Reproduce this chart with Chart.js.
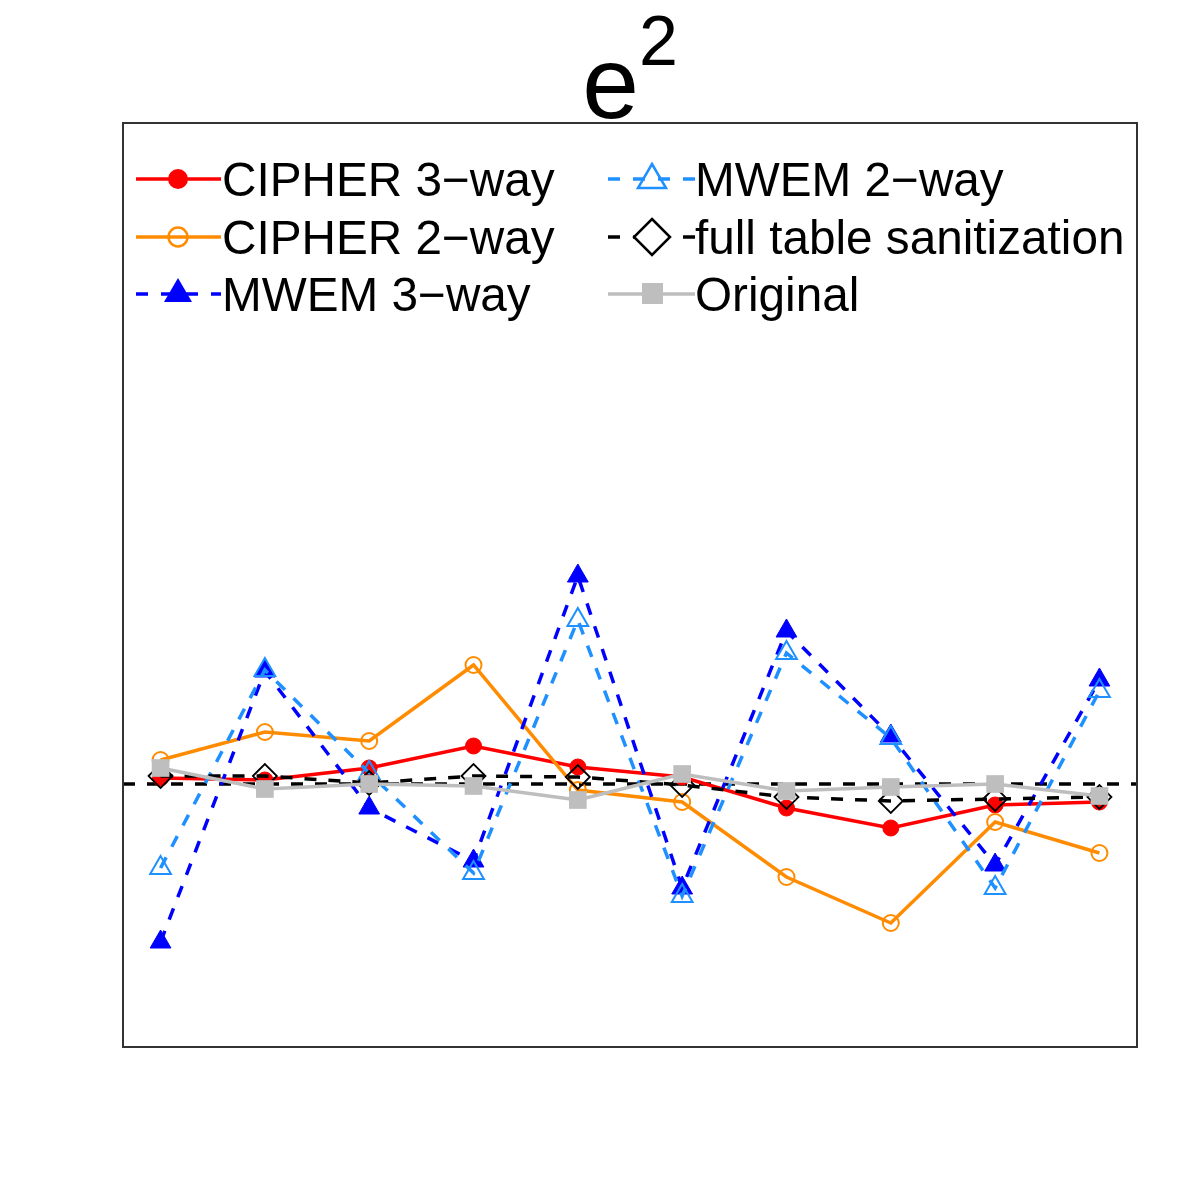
<!DOCTYPE html>
<html>
<head>
<meta charset="utf-8">
<script src="https://cdn.jsdelivr.net/npm/chart.js@4.4.0/dist/chart.umd.min.js"></script>
<style>
  body { margin: 0; background: #fff; font-family: "Liberation Sans", Arial, sans-serif; }
  #wrap { position: relative; width: 1200px; height: 1200px; }
  #chart { position: absolute; left: 0; top: 0; }
  #frame { position: absolute; left: 122px; top: 122px; width: 1016px; height: 926px;
           border: 2px solid #333; box-sizing: border-box; pointer-events: none; }
  #title { position: absolute; left: 123px; width: 1014px; top: 32px; text-align: center;
           font-size: 102px; line-height: 102px; color: #000; }
  #title sup { font-size: 70px; vertical-align: baseline; position: relative; top: -53px; }
  .row { position: absolute; height: 57px; line-height: 57px; font-size: 47.7px; color: #000; white-space: nowrap; }
  .row svg { position: absolute; left: 0; top: 0; }
  .row span { position: absolute; left: 88px; top: 0; }
</style>
</head>
<body>
<div id="wrap">
  <canvas id="chart" width="1200" height="1200"></canvas>
  <div id="frame"></div>
  <div id="title">e<sup>2</sup></div>

  <div class="row" style="left:134px; top:151px;">
    <svg width="88" height="57"><line x1="2" y1="28" x2="87" y2="28" stroke="#FF0000" stroke-width="3.5"/>
      <circle cx="44" cy="28" r="10" fill="#FF0000"/></svg>
    <span>CIPHER 3−way</span>
  </div>
  <div class="row" style="left:134px; top:209px;">
    <svg width="88" height="57"><line x1="2" y1="28" x2="87" y2="28" stroke="#FF8C00" stroke-width="3.5"/>
      <circle cx="44" cy="28" r="9.5" fill="none" stroke="#FF8C00" stroke-width="2.5"/></svg>
    <span>CIPHER 2−way</span>
  </div>
  <div class="row" style="left:134px; top:266px;">
    <svg width="88" height="57"><line x1="2" y1="28" x2="87" y2="28" stroke="#0000FF" stroke-width="3.5" stroke-dasharray="12 13"/>
      <polygon points="44,12 58,36 30,36" fill="#0000FF"/></svg>
    <span>MWEM 3−way</span>
  </div>
  <div class="row" style="left:607px; top:151px;">
    <svg width="88" height="57"><line x1="1" y1="28" x2="88" y2="28" stroke="#1E90FF" stroke-width="3.5" stroke-dasharray="12 13"/>
      <polygon points="45,13 59,37 31,37" fill="none" stroke="#1E90FF" stroke-width="2.5"/></svg>
    <span>MWEM 2−way</span>
  </div>
  <div class="row" style="left:607px; top:209px;">
    <svg width="88" height="57"><line x1="1" y1="28" x2="88" y2="28" stroke="#000" stroke-width="3.5" stroke-dasharray="12 13"/>
      <polygon points="45,10 63,28 45,46 27,28" fill="#fff" stroke="#000" stroke-width="2.5"/></svg>
    <span>full table sanitization</span>
  </div>
  <div class="row" style="left:607px; top:266px;">
    <svg width="88" height="57"><line x1="1" y1="28" x2="88" y2="28" stroke="#BEBEBE" stroke-width="3.5"/>
      <rect x="35" y="17" width="21" height="21" fill="#BEBEBE"/></svg>
    <span>Original</span>
  </div>
</div>

<script>
// x positions (1..10) (arbitrary units, 0 = dashed reference line)
const xs = [1, 2, 3, 4, 5, 6, 7, 8, 9, 10];
const cipher3 = [0.6, 0.4, 1.6, 3.8, 1.7, 0.7, -2.4, -4.4, -2.1, -1.8];
const cipher2 = [2.4, 5.2, 4.3, 11.9, -0.6, -1.8, -9.3, -13.9, -3.8, -6.9];
const mwem3 = [-15.8, 11.3, -2.4, -7.7, 20.8, -10.4, 15.3, 4.8, -8.1, 10.4];
const mwem2 = [-8.4, 11.4, 1.1, -8.9, 16.4, -11.2, 13.1, 4.6, -10.4, 9.3];
const fullTable = [0.8, 0.8, 0.1, 0.8, 0.7, -0.1, -1.3, -1.7, -1.5, -1.3];
const original = [1.6, -0.5, 0.0, -0.2, -1.6, 1.0, -0.7, -0.3, 0.0, -1.2];
const xRange = [0.64, 10.36];
const yRange = [-26.3, 66.1];

function pts(values) {
    return values.map((v, i) => ({ x: xs[i], y: v }));
}

const ctx = document.getElementById('chart').getContext('2d');
new Chart(ctx, {
    type: 'line',
    data: {
        datasets: [
            {
                label: 'zero',
                data: [{ x: xRange[0], y: 0 }, { x: xRange[1], y: 0 }],
                borderColor: '#000',
                borderWidth: 3.5,
                borderDash: [12, 12],
                pointRadius: 0,
                order: 7
            },
            {
                label: 'CIPHER 3-way',
                data: pts(cipher3),
                borderColor: '#FF0000',
                borderWidth: 3.5,
                pointStyle: 'circle',
                pointRadius: 8,
                pointBackgroundColor: '#FF0000',
                pointBorderColor: '#FF0000',
                pointBorderWidth: 1,
                order: 6
            },
            {
                label: 'CIPHER 2-way',
                data: pts(cipher2),
                borderColor: '#FF8C00',
                borderWidth: 3.5,
                pointStyle: 'circle',
                pointRadius: 8,
                pointBackgroundColor: 'rgba(0,0,0,0)',
                pointBorderColor: '#FF8C00',
                pointBorderWidth: 2,
                order: 5
            },
            {
                label: 'MWEM 3-way',
                data: pts(mwem3),
                borderColor: '#0000FF',
                borderWidth: 3.5,
                borderDash: [12, 12],
                pointStyle: 'triangle',
                pointRadius: 12,
                pointBackgroundColor: '#0000FF',
                pointBorderColor: '#0000FF',
                pointBorderWidth: 1,
                order: 4
            },
            {
                label: 'MWEM 2-way',
                data: pts(mwem2),
                borderColor: '#1E90FF',
                borderWidth: 3.5,
                borderDash: [12, 12],
                pointStyle: 'triangle',
                pointRadius: 12,
                pointBackgroundColor: 'rgba(0,0,0,0)',
                pointBorderColor: '#1E90FF',
                pointBorderWidth: 2,
                order: 3
            },
            {
                label: 'full table sanitization',
                data: pts(fullTable),
                borderColor: '#000',
                borderWidth: 3.5,
                borderDash: [12, 12],
                pointStyle: 'rectRot',
                pointRadius: 12,
                pointBackgroundColor: 'rgba(0,0,0,0)',
                pointBorderColor: '#000',
                pointBorderWidth: 1.8,
                order: 2
            },
            {
                label: 'Original',
                data: pts(original),
                borderColor: '#BEBEBE',
                borderWidth: 3.5,
                pointStyle: 'rect',
                pointRadius: 12.5,
                pointBackgroundColor: '#BEBEBE',
                pointBorderColor: '#BEBEBE',
                pointBorderWidth: 0,
                order: 1
            }
        ]
    },
    options: {
        responsive: false,
        devicePixelRatio: 1,
        animation: false,
        events: [],
        layout: { padding: { left: 123, right: 63, top: 123, bottom: 153 } },
        plugins: {
            legend: { display: false },
            tooltip: { enabled: false },
            title: { display: false }
        },
        scales: {
            x: { type: 'linear', display: false, min: xRange[0], max: xRange[1] },
            y: { type: 'linear', display: false, min: yRange[0], max: yRange[1] }
        }
    }
});
</script>
</body>
</html>
